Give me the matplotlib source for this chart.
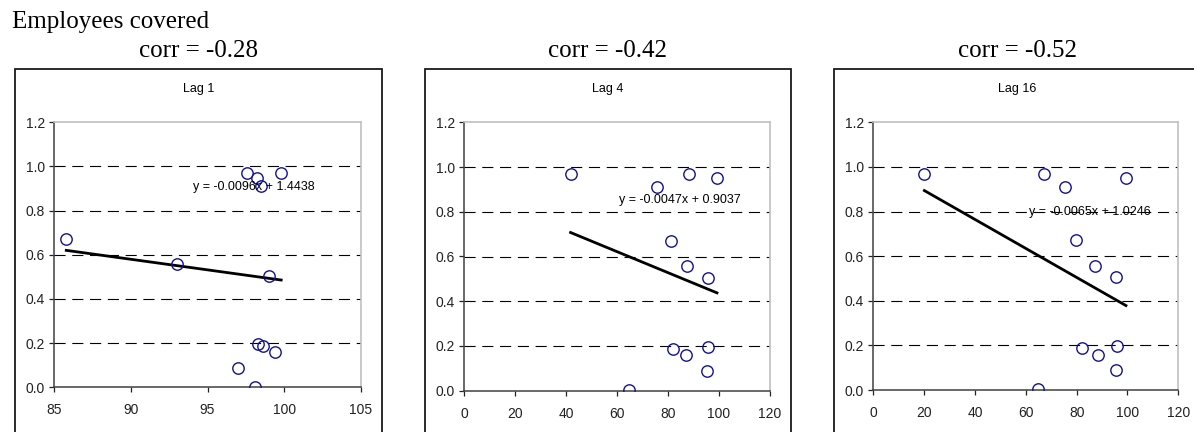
import matplotlib
matplotlib.use("Agg")
import matplotlib.pyplot as plt
from matplotlib.patches import Rectangle
from matplotlib.ticker import FormatStrFormatter, MultipleLocator

# share of employees covered (same y for every lag)
covered = [0.970, 0.970, 0.949, 0.911, 0.671, 0.557, 0.505, 0.195, 0.187, 0.158, 0.089, 0.003]

lag1_x = [97.6, 99.8, 98.2, 98.5, 85.8, 93.0, 99.0, 98.3, 98.6, 99.4, 97.0, 98.1]
lag4_x = [41.8, 88.1, 99.2, 75.6, 81.2, 87.6, 95.6, 95.8, 82.1, 87.2, 95.3, 64.6]
lag16_x = [20.1, 67.3, 99.4, 75.4, 79.6, 87.3, 95.6, 95.9, 82.1, 88.3, 95.3, 64.7]

lag_titles = ["Lag 1", "Lag 4", "Lag 16"]
corr_labels = ["corr = -0.28", "corr = -0.42", "corr = -0.52"]
slopes = [-0.0096, -0.0047, -0.0065]
intercepts = [1.4438, 0.9037, 1.0246]
eq_pos = [(98.0, 0.906), (84.7, 0.852), (85.2, 0.798)]

serif = ["Times New Roman", "Liberation Serif", "DejaVu Serif"]
sans = ["Arial", "Liberation Sans", "DejaVu Sans"]

W, H = 1194, 432
fig = plt.figure(figsize=(W / 100, H / 100), dpi=100)


def fx(px):
    return px / W


def fy(py):
    return 1 - py / H


fig.text(fx(12), fy(28), "Employees covered", family=serif, fontsize=18, va="baseline", ha="left")

# (frame left, frame right, axes left, axes right, axes top, axes bottom) in pixels
boxes = [
    (15, 382, 54, 361, 122.3, 387.3),
    (425, 791, 464, 770, 122.3, 390.7),
    (834, 1201, 873.3, 1178.3, 122.3, 390.0),
]
xlims = [(85, 105), (0, 120), (0, 120)]
xsteps = [5, 20, 20]
xs_all = [lag1_x, lag4_x, lag16_x]

for i in range(3):
    fl, fr, al, ar, at, ab = boxes[i]

    # chart frame
    fig.add_artist(Rectangle((fx(fl), fy(H + 20)), fx(fr) - fx(fl), fy(69) - fy(H + 20),
                             transform=fig.transFigure, fill=False, ec="#1a1a1a", lw=1.3,
                             clip_on=False))
    fig.text(fx((fl + fr) / 2), fy(57), corr_labels[i], family=serif, fontsize=18,
             ha="center", va="baseline")
    fig.text(fx((fl + fr) / 2), fy(89), lag_titles[i], family=sans, fontsize=9,
             ha="center", va="center")

    ax = fig.add_axes([fx(al), fy(ab), fx(ar) - fx(al), fy(at) - fy(ab)])
    ax.set_xlim(*xlims[i])
    ax.set_ylim(0, 1.2)
    ax.xaxis.set_major_locator(MultipleLocator(xsteps[i]))
    ax.yaxis.set_major_locator(MultipleLocator(0.2))
    ax.yaxis.set_major_formatter(FormatStrFormatter("%.1f"))

    for side in ["top", "right"]:
        ax.spines[side].set_color("#c0c0c0")
        ax.spines[side].set_linewidth(1.2)
    for side in ["left", "bottom"]:
        ax.spines[side].set_color("#404040")
        ax.spines[side].set_linewidth(1.1)
    ax.tick_params(axis="y", direction="out", length=3.6, width=0.9, pad=3,
                   labelsize=10, colors="#222222")
    ax.tick_params(axis="x", direction="out", length=3.6, width=0.9, pad=8,
                   labelsize=10, colors="#222222")
    for lab in ax.get_xticklabels() + ax.get_yticklabels():
        lab.set_family(sans)

    for yv in [0.2, 0.4, 0.6, 0.8, 1.0]:
        ax.axhline(yv, color="black", lw=0.8, dashes=(10, 6), zorder=1)

    x = xs_all[i]
    ax.plot(x, covered, ls="none", marker="o", ms=8.2, mfc="none", mec="#10109a", mew=1.0, zorder=3)

    # linear trend line over the data range
    x0, x1 = min(x), max(x)
    ax.plot([x0, x1], [slopes[i] * x0 + intercepts[i], slopes[i] * x1 + intercepts[i]],
            color="black", lw=2, zorder=2)
    ax.text(eq_pos[i][0], eq_pos[i][1],
            "y = %.4fx + %.4f" % (slopes[i], intercepts[i]),
            family=sans, fontsize=9, ha="center", va="center", zorder=4)

fig.savefig("out.png", dpi=100)
